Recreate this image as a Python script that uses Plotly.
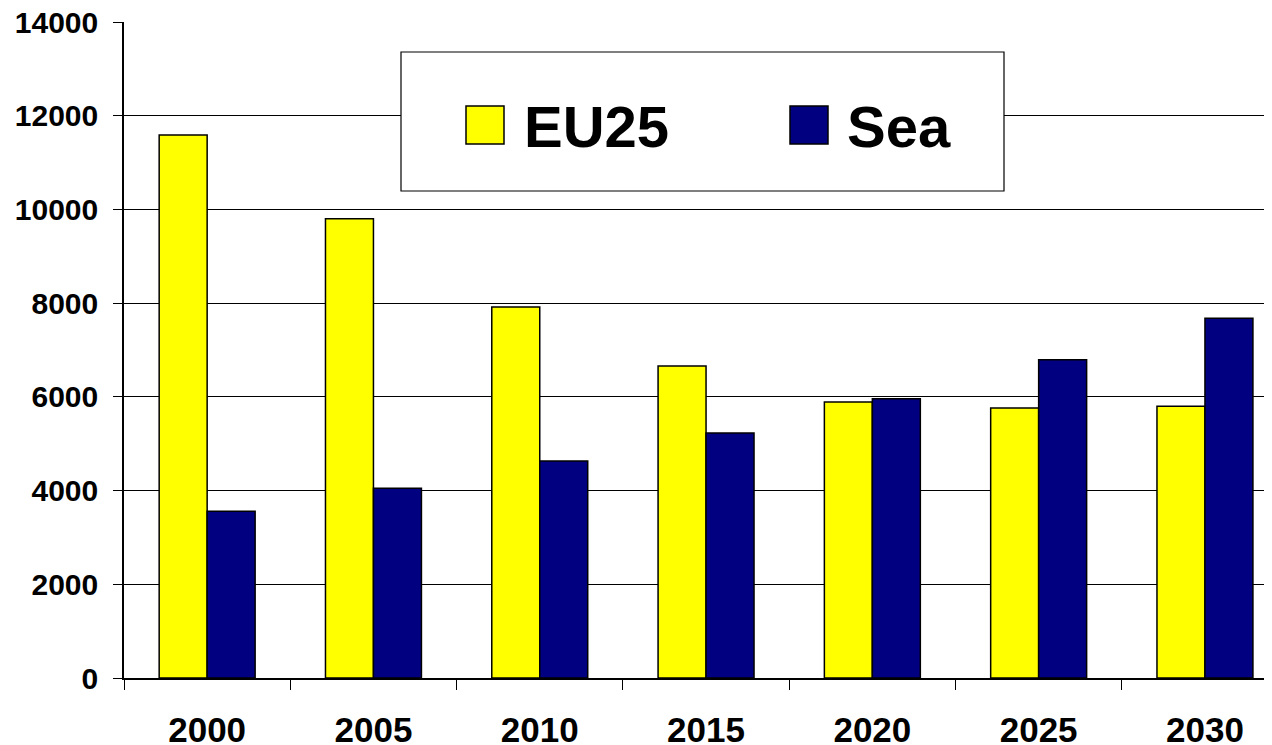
import plotly.graph_objects as go

years = ["2000", "2005", "2010", "2015", "2020", "2025", "2030"]
eu25 = [11590, 9800, 7920, 6660, 5890, 5760, 5800]
sea = [3560, 4050, 4630, 5230, 5960, 6790, 7680]
series_names = ["EU25", "Sea"]
colors = ["#FFFF00", "#000080"]
y_ticks = [0, 2000, 4000, 6000, 8000, 10000, 12000, 14000]

FONT = "Liberation Sans, Arial, sans-serif"

fig = go.Figure()
for name, vals, col in zip(series_names, [eu25, sea], colors):
    fig.add_trace(go.Bar(
        x=years, y=vals, name=name,
        marker=dict(color=col, line=dict(color="#000000", width=1.5)),
        showlegend=False,
    ))

OFF = 8  # default body margin of the html page
W, H = 1272 - OFF, 745 - OFF
L, T = 124 - OFF, 22 - OFF
ph = 656
B = H - T - ph
R = 0
pw = W - L - R
cat_w = 166.3

def px(x):
    return (x - OFF - L) / pw

def py(y):
    return (T + ph - (y - OFF)) / ph

fig.update_layout(
    template="none",
    width=W, height=H,
    margin=dict(l=L, r=R, t=T, b=B, pad=0, autoexpand=False),
    paper_bgcolor="white", plot_bgcolor="white",
    barmode="group", bargap=0.423, bargroupgap=0,
    font=dict(family=FONT, color="#000000"),
    xaxis=dict(
        type="category",
        automargin=False,
        range=[-0.5, -0.5 + pw / cat_w],
        showgrid=False,
        showline=True, linecolor="#000000", linewidth=1.5,
        ticks="outside", tickson="boundaries", ticklen=10, tickcolor="#000000",
        tickfont=dict(family=FONT, size=35, weight="bold"),
        ticklabelstandoff=20,
        ticklabeloverflow="allow",
    ),
    yaxis=dict(
        automargin=False,
        range=[0, 14000.5],
        tickvals=y_ticks,
        ticktext=[str(v) for v in y_ticks],
        showgrid=True, gridcolor="#000000", gridwidth=1,
        showline=True, linecolor="#000000", linewidth=1.5,
        ticks="outside", ticklen=9, tickcolor="#000000",
        tickfont=dict(family=FONT, size=30, weight="bold"),
        ticklabelstandoff=9,
        ticklabeloverflow="allow",
        zeroline=False,
    ),
)

shapes = [
    dict(type="rect", xref="paper", yref="paper",
         x0=px(401), x1=px(1004), y0=py(191), y1=py(52),
         fillcolor="white", line=dict(color="#000000", width=1.2), layer="above"),
]
sq = [(466, 504), (790, 828)]
for (x0, x1), col in zip(sq, colors):
    shapes.append(dict(type="rect", xref="paper", yref="paper",
                       x0=px(x0), x1=px(x1), y0=py(144), y1=py(106),
                       fillcolor=col, line=dict(color="#000000", width=1.5), layer="above"))
fig.update_layout(shapes=shapes)

text_x = [522, 845]
for name, tx in zip(series_names, text_x):
    fig.add_annotation(
        x=px(tx), y=py(126), xref="paper", yref="paper",
        text=name, showarrow=False, xanchor="left", yanchor="middle",
        font=dict(family=FONT, size=58, weight="bold", color="#000000"),
    )

fig.write_html("out.html")
